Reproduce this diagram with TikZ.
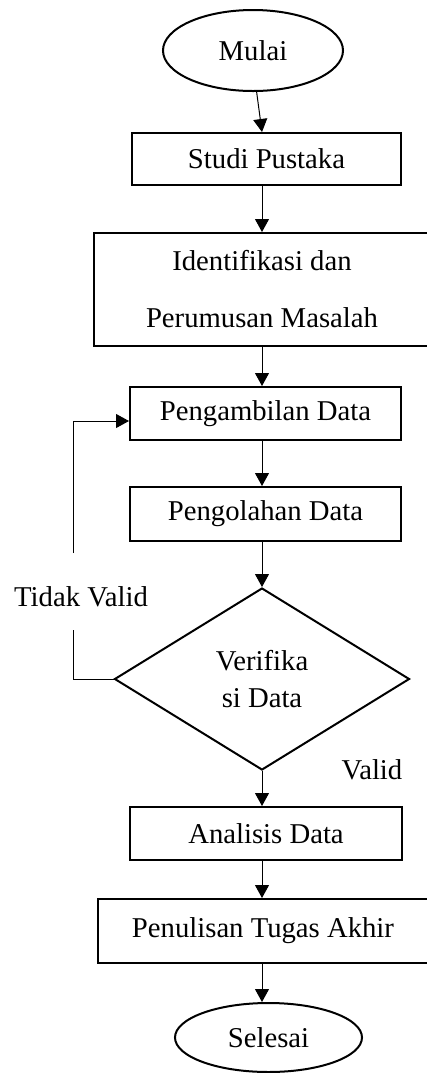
\documentclass[tikz,border=0pt]{standalone}
\usepackage{fontspec}
\setmainfont{Liberation Serif}
\usetikzlibrary{shapes.geometric,arrows.meta}
\begin{document}
\begin{tikzpicture}[x=0.5pt,y=-0.5pt,
  every node/.style={font=\fontsize{14.35}{17}\selectfont, inner sep=0pt},
  boxnode/.style={draw, line width=1pt, rectangle},
  termnode/.style={draw, line width=1pt, ellipse},
  decnode/.style={draw, line width=1pt, diamond},
  arr/.style={line width=0.5pt, -{Triangle[length=6.5pt,width=7pt]}},
  ln/.style={line width=0.5pt}]
\useasboundingbox (0,0) rectangle (427,1073);
\clip (0,0) rectangle (427,1073);
\node[termnode, minimum width=90pt, minimum height=40.5pt] (mulai) at (253,50.5) {Mulai};
\node[boxnode, minimum width=134.5pt, minimum height=26pt] (studi) at (266.5,159) {Studi Pustaka};
\node[boxnode, minimum width=168pt, minimum height=56.5pt, align=center,
  font=\fontsize{14.35}{28.5}\selectfont] (ident) at (262,289.5) {Identifikasi dan\\Perumusan Masalah};
\node[boxnode, minimum width=135.5pt, minimum height=26.5pt] (amb) at (265.5,413.5) {Pengambilan Data};
\node[boxnode, minimum width=135.5pt, minimum height=27pt] (olah) at (265.5,514) {Pengolahan Data};
\node[decnode, minimum width=147.5pt, minimum height=91pt, shape aspect=1.62, align=center,
  font=\fontsize{14.35}{18.5}\selectfont] (ver) at (262,679) {Verifika\\si Data};
\node[boxnode, minimum width=136pt, minimum height=26.5pt] (ana) at (266,833.5) {Analisis Data};
\node[boxnode, minimum width=165pt, minimum height=32pt] (pen) at (263,931) {Penulisan Tugas Akhir};
\node[termnode, minimum width=93.5pt, minimum height=34.5pt] (sel) at (268.5,1037.5) {Selesai};
\node (tv) at (81,597) {Tidak Valid};
\node (valid) at (372,770) {Valid};
\coordinate (ax) at (262,0);
\coordinate (fa) at (73,630);
\coordinate (fb) at (73,553);
\coordinate (fc) at (73,421);
\draw[arr] (mulai.-85) -- (studi.north -| ax);
\draw[arr] (studi.south -| ax) -- (ident.north -| ax);
\draw[arr] (ident.south -| ax) -- (amb.north -| ax);
\draw[arr] (amb.south -| ax) -- (olah.north -| ax);
\draw[arr] (olah.south -| ver.north) -- (ver.north);
\draw[arr] (ver.south) -- (ana.north -| ver.south);
\draw[arr] (ana.south -| ax) -- (pen.north -| ax);
\draw[arr] (pen.south -| ax) -- (sel.north -| ax);
\draw[ln] (ver.west) -| (fa);
\draw[arr] (fb) -- (fc) -- (fc -| amb.west);
\end{tikzpicture}
\end{document}
